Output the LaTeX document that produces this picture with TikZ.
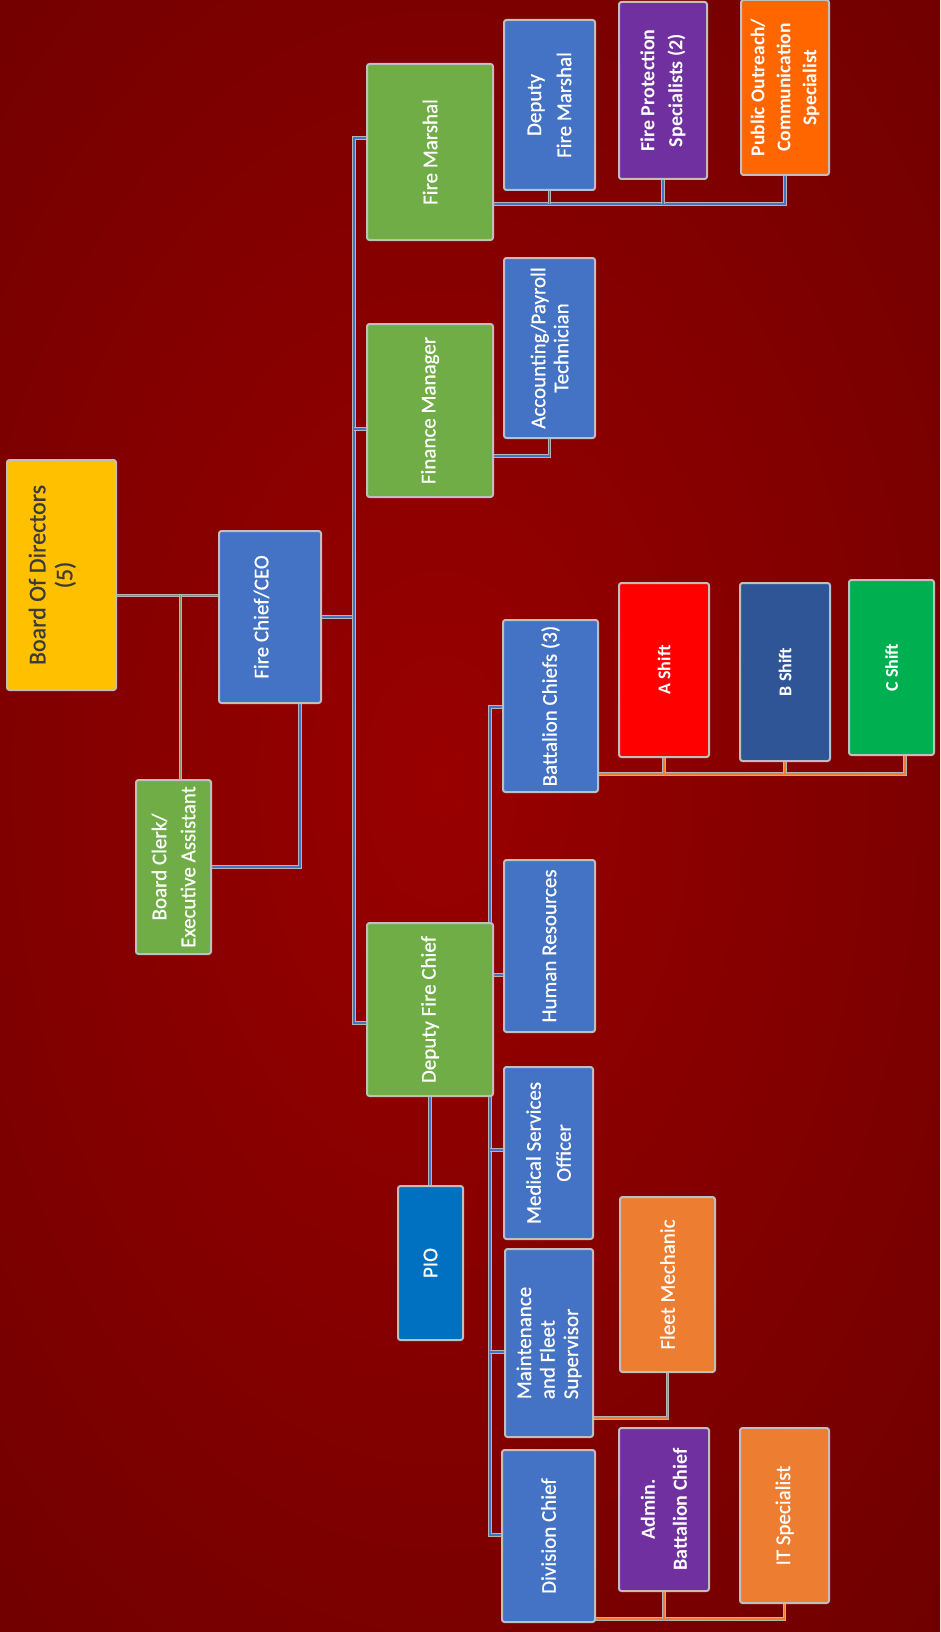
\documentclass[tikz,border=0pt]{standalone}
\usepackage{fontspec}
\setmainfont{Carlito}
\newfontfamily\semifont{Carlito}[FakeBold=0.7]
\definecolor{bgin}{HTML}{990000}
\definecolor{bgout}{HTML}{620000}
\definecolor{cblue}{HTML}{4472C4}
\definecolor{cgreen}{HTML}{70AD47}
\definecolor{cyellow}{HTML}{FFC000}
\definecolor{cpurple}{HTML}{7030A0}
\definecolor{corange}{HTML}{ED7D31}
\definecolor{corangeb}{HTML}{FF6600}
\definecolor{cred}{HTML}{FF0000}
\definecolor{cdblue}{HTML}{2F5597}
\definecolor{cgreenb}{HTML}{00B050}
\definecolor{cpio}{HTML}{0070C0}
\definecolor{bordergray}{HTML}{BFBFBF}
\definecolor{linkgray}{HTML}{B4B4B4}
\definecolor{linkblue}{HTML}{4472C4}
\definecolor{linkorange}{HTML}{ED7D31}
\definecolor{linkgreen}{HTML}{7C9A66}
\definecolor{boardtext}{HTML}{3A3A3A}
\pgfdeclarelayer{bglayer}
\pgfdeclarelayer{links}
\pgfsetlayers{bglayer,links,main}
\begin{document}
\begin{tikzpicture}[x=1pt,y=-1pt,
  box/.style={rotate=90, draw=bordergray, line width=2pt, rounded corners=2.5pt,
    text=white, align=center, inner sep=2pt, outer sep=0pt,
    font=\semifont\fontsize{21}{28}\selectfont},
  boldbox/.style={box, font=\fontsize{20}{28}\selectfont\bfseries},
  link/.style={draw=linkgray, double=linkblue, line width=1pt, double distance=1.6pt},
  olink/.style={draw=linkgray, double=linkorange, line width=0.8pt, double distance=1.6pt},
  glink/.style={draw=linkgray, double=linkgreen, line width=1pt, double distance=1pt}]
\useasboundingbox (0,0) rectangle (940,1632);
\begin{pgfonlayer}{bglayer}
\begin{scope}
\clip (0,0) rectangle (940,1632);
\shade[inner color=bgin, outer color=bgout] (-520,-760) rectangle (1400,2320);
\end{scope}
\end{pgfonlayer}

% top level
\node[box, fill=cyellow, text=boardtext, minimum width=230, minimum height=109,
  font=\semifont\fontsize{24}{27}\selectfont] (bod) at (61.5,575) {Board Of Directors\\(5)\\[-5pt]\mbox{}};
\node[box, fill=cblue, minimum width=172, minimum height=102] (fc) at (270,617) {Fire Chief/CEO\\[-10pt]\mbox{}};
\node[box, fill=cgreen, minimum width=174, minimum height=75, font=\semifont\fontsize{21}{29}\selectfont] (bc) at (173.5,867) {Board Clerk/\\Executive Assistant};

% fire marshal branch
\node[box, fill=cgreen, minimum width=176, minimum height=126] (fm) at (430,152) {Fire Marshal};
\node[box, fill=cblue, minimum width=170, minimum height=91, font=\semifont\fontsize{21}{30}\selectfont] (dfm) at (549.5,105) {Deputy\\Fire Marshal};
\node[boldbox, fill=cpurple, minimum width=177, minimum height=88] (fps) at (663,90.5) {Fire Protection\\Specialists (2)};
\node[boldbox, fill=corangeb, minimum width=175, minimum height=88, font=\fontsize{19.5}{26}\selectfont\bfseries] (poc) at (785,87.5) {Public Outreach/\\Communication\\Specialist};

% finance branch
\node[box, fill=cgreen, minimum width=173, minimum height=126] (fin) at (430,410.5) {Finance Manager};
\node[box, fill=cblue, minimum width=180, minimum height=91, font=\semifont\fontsize{21}{23}\selectfont] (acc) at (549.5,348) {Accounting/Payroll\\Technician};

% deputy fire chief branch
\node[box, fill=cblue, minimum width=172, minimum height=95] (bat) at (550.5,706) {Battalion Chiefs (3)};
\node[boldbox, fill=cred, minimum width=174, minimum height=90, font=\fontsize{18}{22}\selectfont\bfseries] (as) at (664,670) {A Shift};
\node[boldbox, fill=cdblue, minimum width=178, minimum height=90, font=\fontsize{18}{22}\selectfont\bfseries] (bs) at (785,672) {B Shift};
\node[boldbox, fill=cgreenb, minimum width=175, minimum height=85, font=\fontsize{18}{22}\selectfont\bfseries] (cs) at (891.5,667.5) {C Shift};
\node[box, fill=cgreen, minimum width=173, minimum height=126] (dfc) at (430,1009.5) {Deputy Fire Chief};
\node[box, fill=cblue, minimum width=172, minimum height=91] (hr) at (549.5,946) {Human Resources};
\node[box, fill=cblue, minimum width=172, minimum height=89, font=\semifont\fontsize{21}{30}\selectfont] (mso) at (548.5,1153) {Medical Services\\Officer};
\node[box, fill=cpio, minimum width=154, minimum height=65] (pio) at (430.5,1263) {PIO};
\node[box, fill=cblue, minimum width=188, minimum height=88, align=left, font=\semifont\fontsize{21}{23.5}\selectfont] (mfs) at (549,1343) {Maintenance\\and Fleet\\Supervisor};
\node[box, fill=corange, minimum width=175, minimum height=95] (fmech) at (667.5,1284.5) {Fleet Mechanic};
\node[box, fill=cblue, minimum width=172, minimum height=93] (div) at (548.5,1536) {Division Chief};
\node[boldbox, fill=cpurple, minimum width=163, minimum height=90, font=\fontsize{20}{32}\selectfont\bfseries] (abc) at (664,1509.5) {Admin.\\Battalion Chief};
\node[box, fill=corange, minimum width=175, minimum height=89] (it) at (784.5,1515.5) {IT Specialist};

\begin{pgfonlayer}{links}
% board / fire chief / clerk
\coordinate (j1) at (180,595);
\draw[glink] (bod.south |- j1) -- (fc.north |- j1);
\draw[glink] (j1) -- (j1 |- bc.east);
\draw[link] (fc.west -| 300,0) |- (bc.south);
% spine
\coordinate (s0) at (354,617);
\coordinate (s1) at (354,138);
\coordinate (s2) at (354,1023);
\coordinate (s3) at (354,429);
\draw[link] (fc.south) -- (s0);
\draw[link] (fm.north |- s1) -- (s1) -- (s2) -- (dfc.north |- s2);
\draw[link] (s3) -- (fin.north |- s3);
% fire marshal children
\coordinate (fmy) at (0,204);
\draw[link] (fm.south |- fmy) -| (poc.west);
\draw[link] (dfm.west) -- (dfm.west |- fmy);
\draw[link] (fps.west) -- (fps.west |- fmy);
% finance child
\draw[link] (fin.south |- 0,456) -| (acc.west);
% deputy fire chief children
\coordinate (d1) at (490,707);
\coordinate (d2) at (490,1535);
\coordinate (dh) at (490,975);
\coordinate (dm) at (490,1150);
\coordinate (df) at (490,1352);
\draw[link] (bat.north |- d1) -- (d1) -- (d2) -- (div.north |- d2);
\draw[link] (dh) -- (hr.north |- dh);
\draw[link] (dm) -- (mso.north |- dm);
\draw[link] (df) -- (mfs.north |- df);
\draw[link] (dfc.west) -- (dfc.west |- pio.east);
% shifts
\coordinate (sy) at (0,774);
\draw[olink] (bat.south |- sy) -| (cs.west -| 905,0);
\draw[olink] (as.west) -- (as.west |- sy);
\draw[olink] (bs.west) -- (bs.west |- sy);
% fleet mechanic
\draw[olink] (mfs.south |- 0,1418) -| (fmech.west);
% division chief children
\draw[olink] (div.south |- 0,1619) -| (it.west);
\draw[olink] (abc.west) -- (abc.west |- 0,1619);
\end{pgfonlayer}
\end{tikzpicture}
\end{document}
